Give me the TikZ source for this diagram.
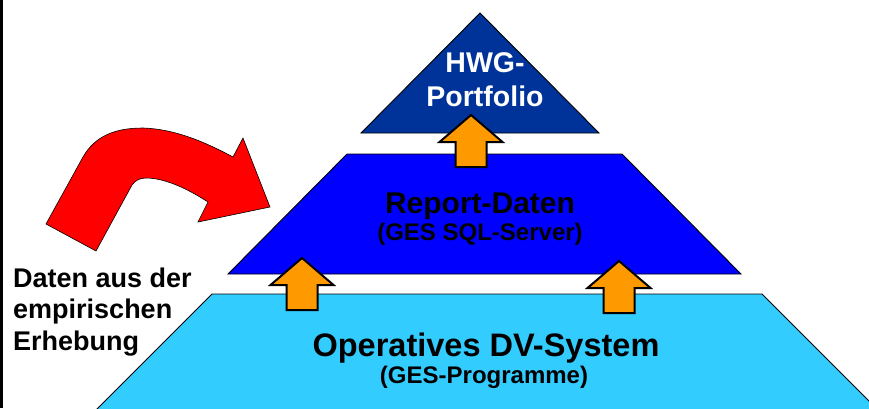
\documentclass[tikz,border=0pt]{standalone}
\usepackage{fontspec}
\setmainfont{Liberation Sans}
\definecolor{topblue}{HTML}{003399}
\definecolor{midblue}{HTML}{0000FF}
\definecolor{lowblue}{HTML}{33CCFF}
\definecolor{arrorange}{HTML}{FF9900}

\begin{document}
\begin{tikzpicture}[x=1pt, y=-1pt,
  layer/.style={draw=black, line width=0.9pt, line join=miter, fill=#1},
  uparr/.style={draw=black, line width=2pt, line join=miter, fill=arrorange},
  bendarr/.style={draw=black, line width=0.6pt, fill=red},
  toptxt/.style={font=\bfseries\fontsize{28.5}{34}\selectfont, text=white, align=center,
                 inner sep=0pt, anchor=base},
  title/.style={font=\bfseries\fontsize{30}{32}\selectfont, inner sep=0pt, anchor=base},
  bigtitle/.style={font=\bfseries\fontsize{32.5}{34}\selectfont, inner sep=0pt, anchor=base},
  subtitle/.style={font=\bfseries\fontsize{24}{26}\selectfont, inner sep=0pt, anchor=base},
  sidetxt/.style={font=\bfseries\fontsize{27}{31.5}\selectfont, align=left,
                  inner sep=0pt, anchor=base west},
]
\useasboundingbox (0,0) rectangle (869,408);
\clip (0,0) rectangle (869,408);

% === Pyramid layers ===
\draw[layer=lowblue] (212,294) -- (762,294) -- (900,432) -- (74,432) -- cycle;
\draw[layer=midblue] (347,154) -- (622,154) -- (741,274) -- (228,274) -- cycle;
\draw[layer=topblue] (480,13) -- (599,133) -- (361,133) -- cycle;

% === Frame line ===
\draw[line width=2.4pt] (1.5,0) -- (1.5,408);

% === Block arrows ===
\foreach \tx/\ty in {471/115, 302/258, 619/261}
  \draw[uparr] (\tx,\ty) -- ++(31.5,27) -- ++(-16,0) -- ++(0,25)
               -- ++(-31,0) -- ++(0,-25) -- ++(-16,0) -- cycle;

% === Bent arrow ===
\draw[bendarr] (46,224) -- (83,157)
  .. controls (95,136) and (115,128) .. (143,128)
  .. controls (175,129) and (205,142) .. (233,157)
  -- (243,138) -- (270,207) -- (198,222) -- (208,202)
  .. controls (188,189) and (165,178) .. (146,178)
  .. controls (139,178) and (135,181) .. (132,185)
  -- (96,251) -- cycle;

% === Texts ===
\node[toptxt] (hwg) at (485,106) {HWG-\\Portfolio};
\node[title] (rep) at (480,213) {Report-Daten};
\node[subtitle] (repsub) at (480,240) {(GES SQL-Server)};
\node[bigtitle] (ops) at (486,356) {Operatives DV-System};
\node[subtitle] (opssub) at (484,383) {(GES-Programme)};
\node[sidetxt] (daten) at (13,350) {Daten aus der\\empirischen\\Erhebung};

\end{tikzpicture}
\end{document}
